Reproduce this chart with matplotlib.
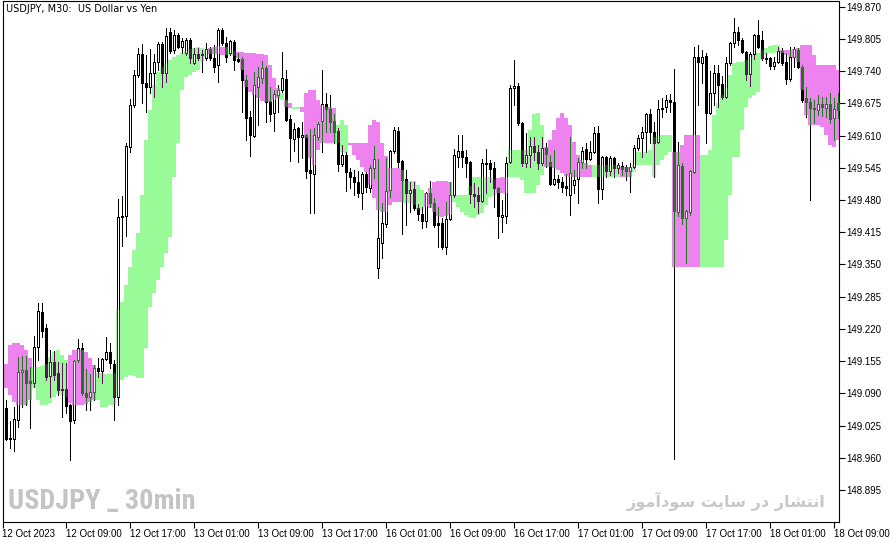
import matplotlib
matplotlib.use("Agg")
import matplotlib.pyplot as plt
from matplotlib.patches import Rectangle
from matplotlib import font_manager as fm
import numpy as np

# ---------------- data (USDJPY M30) ----------------
opens = [149.071, 149.061, 149.000, 148.998, 149.036, 149.133, 149.137, 149.115, 149.111, 149.183,
         149.254, 149.222, 149.125, 149.153, 149.131, 149.099, 149.099, 149.067, 149.036, 149.157,
         149.181, 149.091, 149.083, 149.093, 149.141, 149.135, 149.159, 149.173, 149.149, 149.083,
         149.446, 149.448, 149.587, 149.672, 149.732, 149.775, 149.716, 149.708, 149.736, 149.758,
         149.795, 149.736, 149.819, 149.783, 149.813, 149.789, 149.777, 149.803, 149.756, 149.775,
         149.775, 149.767, 149.785, 149.767, 149.752, 149.823, 149.797, 149.777, 149.799, 149.764,
         149.764, 149.722, 149.647, 149.609, 149.708, 149.726, 149.746, 149.680, 149.656, 149.692,
         149.702, 149.724, 149.643, 149.603, 149.625, 149.607, 149.611, 149.541, 149.532, 149.607,
         149.639, 149.674, 149.664, 149.639, 149.619, 149.553, 149.571, 149.537, 149.526, 149.516,
         149.494, 149.532, 149.504, 149.545, 149.343, 149.393, 149.432, 149.500, 149.579, 149.619,
         149.559, 149.522, 149.494, 149.502, 149.464, 149.452, 149.438, 149.494, 149.474, 149.434,
         149.434, 149.385, 149.442, 149.490, 149.567, 149.579, 149.567, 149.557, 149.492, 149.490,
         149.478, 149.555, 149.555, 149.545, 149.504, 149.446, 149.448, 149.557, 149.706, 149.710,
         149.635, 149.555, 149.571, 149.589, 149.577, 149.555, 149.585, 149.557, 149.512, 149.522,
         149.516, 149.508, 149.490, 149.510, 149.522, 149.557, 149.583, 149.563, 149.577, 149.615,
         149.502, 149.567, 149.539, 149.565, 149.545, 149.549, 149.547, 149.539, 149.547, 149.585,
         149.605, 149.617, 149.654, 149.617, 149.597, 149.666, 149.668, 149.682, 149.678, 149.456,
         149.549, 149.444, 149.456, 149.537, 149.769, 149.756, 149.771, 149.656, 149.696, 149.736,
         149.714, 149.688, 149.756, 149.797, 149.819, 149.803, 149.779, 149.734, 149.775, 149.813,
         149.803, 149.767, 149.767, 149.750, 149.758, 149.781, 149.758, 149.724, 149.769, 149.783,
         149.748, 149.686, 149.678, 149.666, 149.662, 149.674, 149.666, 149.674, 149.645, 149.676]

highs = [149.077, 149.077, 149.034, 149.062, 149.163, 149.165, 149.165, 149.143, 149.206, 149.272,
         149.272, 149.230, 149.177, 149.175, 149.153, 149.151, 149.151, 149.069, 149.157, 149.200,
         149.191, 149.139, 149.129, 149.147, 149.161, 149.161, 149.204, 149.191, 149.157, 149.482,
         149.488, 149.595, 149.684, 149.742, 149.787, 149.795, 149.773, 149.785, 149.775, 149.799,
         149.799, 149.827, 149.827, 149.823, 149.817, 149.807, 149.807, 149.807, 149.787, 149.787,
         149.783, 149.797, 149.789, 149.793, 149.827, 149.827, 149.809, 149.803, 149.803, 149.777,
         149.769, 149.732, 149.660, 149.738, 149.748, 149.760, 149.750, 149.708, 149.702, 149.712,
         149.779, 149.742, 149.651, 149.635, 149.627, 149.637, 149.613, 149.623, 149.625, 149.637,
         149.742, 149.696, 149.692, 149.654, 149.625, 149.591, 149.577, 149.545, 149.541, 149.539,
         149.537, 149.537, 149.551, 149.589, 149.563, 149.474, 149.565, 149.581, 149.627, 149.627,
         149.561, 149.541, 149.516, 149.516, 149.472, 149.466, 149.496, 149.518, 149.484, 149.466,
         149.444, 149.476, 149.516, 149.583, 149.611, 149.611, 149.581, 149.559, 149.514, 149.506,
         149.563, 149.583, 149.561, 149.557, 149.506, 149.480, 149.567, 149.712, 149.762, 149.716,
         149.637, 149.615, 149.607, 149.607, 149.591, 149.607, 149.595, 149.571, 149.581, 149.530,
         149.526, 149.532, 149.607, 149.541, 149.565, 149.587, 149.595, 149.599, 149.627, 149.629,
         149.569, 149.569, 149.569, 149.567, 149.555, 149.557, 149.551, 149.555, 149.591, 149.611,
         149.627, 149.656, 149.664, 149.637, 149.682, 149.686, 149.692, 149.694, 149.744, 149.597,
         149.555, 149.460, 149.541, 149.789, 149.793, 149.783, 149.777, 149.740, 149.752, 149.752,
         149.730, 149.769, 149.799, 149.847, 149.829, 149.807, 149.781, 149.779, 149.815, 149.843,
         149.821, 149.777, 149.769, 149.769, 149.789, 149.787, 149.777, 149.789, 149.789, 149.787,
         149.752, 149.708, 149.686, 149.682, 149.692, 149.688, 149.688, 149.696, 149.686, 149.696]

lows = [149.052, 148.996, 148.980, 148.974, 149.022, 149.062, 149.067, 149.020, 149.103, 149.157,
        149.204, 149.117, 149.083, 149.117, 149.087, 149.042, 149.050, 148.956, 149.030, 149.153,
        149.087, 149.056, 149.056, 149.077, 149.123, 149.111, 149.157, 149.141, 149.036, 149.067,
        149.387, 149.407, 149.577, 149.668, 149.728, 149.676, 149.658, 149.696, 149.688, 149.742,
        149.708, 149.718, 149.777, 149.777, 149.787, 149.777, 149.773, 149.756, 149.754, 149.762,
        149.738, 149.762, 149.762, 149.738, 149.718, 149.793, 149.758, 149.773, 149.742, 149.758,
        149.658, 149.601, 149.569, 149.607, 149.631, 149.716, 149.637, 149.639, 149.619, 149.658,
        149.698, 149.639, 149.559, 149.579, 149.557, 149.565, 149.524, 149.454, 149.454, 149.601,
        149.577, 149.617, 149.617, 149.595, 149.539, 149.549, 149.498, 149.504, 149.490, 149.486,
        149.462, 149.496, 149.496, 149.524, 149.323, 149.363, 149.426, 149.486, 149.575, 149.547,
        149.411, 149.430, 149.456, 149.460, 149.440, 149.424, 149.426, 149.466, 149.426, 149.385,
        149.381, 149.371, 149.440, 149.486, 149.547, 149.547, 149.526, 149.474, 149.466, 149.454,
        149.476, 149.494, 149.516, 149.466, 149.403, 149.415, 149.434, 149.555, 149.672, 149.631,
        149.549, 149.547, 149.547, 149.561, 149.543, 149.551, 149.547, 149.510, 149.510, 149.504,
        149.496, 149.490, 149.450, 149.494, 149.474, 149.545, 149.545, 149.561, 149.575, 149.474,
        149.482, 149.526, 149.530, 149.526, 149.535, 149.530, 149.520, 149.496, 149.545, 149.581,
        149.567, 149.577, 149.595, 149.526, 149.595, 149.647, 149.658, 149.658, 148.958, 149.448,
        149.432, 149.353, 149.450, 149.535, 149.672, 149.716, 149.595, 149.654, 149.672, 149.668,
        149.684, 149.686, 149.752, 149.789, 149.793, 149.777, 149.722, 149.710, 149.764, 149.787,
        149.762, 149.756, 149.744, 149.744, 149.756, 149.752, 149.714, 149.720, 149.748, 149.746,
        149.678, 149.647, 149.480, 149.635, 149.651, 149.649, 149.647, 149.635, 149.601, 149.645]

closes = [149.056, 148.998, 148.998, 149.038, 149.133, 149.137, 149.111, 149.111, 149.183, 149.256,
          149.216, 149.123, 149.153, 149.127, 149.097, 149.097, 149.065, 149.034, 149.155, 149.181,
          149.091, 149.083, 149.093, 149.141, 149.135, 149.159, 149.173, 149.151, 149.083, 149.446,
          149.448, 149.589, 149.672, 149.732, 149.775, 149.716, 149.708, 149.736, 149.758, 149.795,
          149.736, 149.811, 149.781, 149.813, 149.789, 149.801, 149.803, 149.767, 149.775, 149.767,
          149.773, 149.785, 149.767, 149.748, 149.823, 149.797, 149.769, 149.801, 149.762, 149.760,
          149.722, 149.645, 149.611, 149.712, 149.728, 149.746, 149.678, 149.654, 149.694, 149.702,
          149.726, 149.641, 149.605, 149.623, 149.607, 149.611, 149.539, 149.535, 149.611, 149.633,
          149.674, 149.664, 149.637, 149.617, 149.553, 149.571, 149.537, 149.526, 149.516, 149.494,
          149.532, 149.506, 149.545, 149.563, 149.403, 149.434, 149.498, 149.579, 149.621, 149.557,
          149.520, 149.494, 149.500, 149.464, 149.452, 149.438, 149.494, 149.474, 149.430, 149.430,
          149.385, 149.442, 149.490, 149.571, 149.579, 149.567, 149.555, 149.492, 149.488, 149.478,
          149.555, 149.553, 149.543, 149.504, 149.448, 149.450, 149.555, 149.706, 149.710, 149.635,
          149.555, 149.571, 149.589, 149.577, 149.555, 149.585, 149.573, 149.512, 149.522, 149.516,
          149.506, 149.504, 149.535, 149.520, 149.557, 149.579, 149.563, 149.577, 149.615, 149.502,
          149.567, 149.539, 149.565, 149.545, 149.551, 149.543, 149.539, 149.547, 149.585, 149.605,
          149.617, 149.654, 149.617, 149.595, 149.664, 149.664, 149.682, 149.678, 149.458, 149.551,
          149.444, 149.458, 149.539, 149.769, 149.758, 149.769, 149.656, 149.696, 149.736, 149.712,
          149.688, 149.756, 149.797, 149.819, 149.803, 149.779, 149.734, 149.775, 149.813, 149.789,
          149.767, 149.764, 149.750, 149.758, 149.781, 149.756, 149.724, 149.769, 149.785, 149.748,
          149.682, 149.678, 149.666, 149.664, 149.674, 149.668, 149.674, 149.643, 149.664, 149.662]

# cloud spans (green where span_a > span_b, violet otherwise)
span_a = [149.127, 149.101, 149.087, 149.072, 149.067, 149.067, 149.067, 149.077, 149.143, 149.143,
          149.145, 149.149, 149.163, 149.173, 149.177, 149.167, 149.157, 149.070, 149.067, 149.067,
          149.067, 149.069, 149.072, 149.077, 149.131, 149.131, 149.129, 149.129, 149.131, 149.258,
          149.274, 149.309, 149.345, 149.379, 149.413, 149.490, 149.601, 149.662, 149.712, 149.738,
          149.748, 149.756, 149.762, 149.769, 149.773, 149.777, 149.781, 149.785, 149.787, 149.789,
          149.787, 149.785, 149.775, 149.775, 149.775, 149.773, 149.773, 149.783, 149.781, 149.767,
          149.742, 149.708, 149.698, 149.692, 149.686, 149.680, 149.678, 149.678, 149.682, 149.686,
          149.696, 149.668, 149.666, 149.668, 149.668, 149.658, 149.605, 149.565, 149.551, 149.581,
          149.595, 149.595, 149.595, 149.595, 149.631, 149.641, 149.631, 149.591, 149.571, 149.561,
          149.547, 149.537, 149.510, 149.484, 149.460, 149.456, 149.456, 149.470, 149.476, 149.476,
          149.476, 149.518, 149.518, 149.518, 149.510, 149.500, 149.466, 149.464, 149.456, 149.448,
          149.446, 149.448, 149.450, 149.490, 149.490, 149.490, 149.490, 149.508, 149.526, 149.526,
          149.526, 149.526, 149.526, 149.522, 149.494, 149.494, 149.494, 149.581, 149.581, 149.581,
          149.581, 149.581, 149.621, 149.654, 149.656, 149.631, 149.547, 149.547, 149.545, 149.541,
          149.535, 149.528, 149.526, 149.526, 149.526, 149.526, 149.526, 149.526, 149.551, 149.551,
          149.551, 149.551, 149.551, 149.551, 149.551, 149.526, 149.526, 149.526, 149.551, 149.577,
          149.577, 149.577, 149.581, 149.607, 149.609, 149.611, 149.611, 149.611, 149.345, 149.345,
          149.345, 149.345, 149.345, 149.345, 149.345, 149.571, 149.571, 149.581, 149.651, 149.676,
          149.692, 149.706, 149.732, 149.756, 149.758, 149.758, 149.762, 149.769, 149.773, 149.777,
          149.783, 149.787, 149.791, 149.793, 149.793, 149.777, 149.773, 149.769, 149.767, 149.758,
          149.702, 149.651, 149.631, 149.631, 149.631, 149.627, 149.611, 149.591, 149.587, 149.601]

span_b = [149.147, 149.149, 149.188, 149.192, 149.192, 149.188, 149.177, 149.161, 149.101, 149.077,
          149.067, 149.067, 149.070, 149.083, 149.089, 149.087, 149.083, 149.167, 149.177, 149.177,
          149.177, 149.173, 149.161, 149.147, 149.077, 149.062, 149.062, 149.067, 149.067, 149.083,
          149.117, 149.123, 149.127, 149.125, 149.121, 149.121, 149.181, 149.264, 149.292, 149.319,
          149.345, 149.373, 149.405, 149.526, 149.595, 149.702, 149.728, 149.732, 149.738, 149.742,
          149.758, 149.769, 149.787, 149.789, 149.791, 149.789, 149.789, 149.773, 149.771, 149.779,
          149.779, 149.777, 149.777, 149.777, 149.775, 149.775, 149.773, 149.752, 149.726, 149.706,
          149.682, 149.682, 149.676, 149.664, 149.664, 149.668, 149.696, 149.702, 149.702, 149.682,
          149.672, 149.668, 149.668, 149.666, 149.595, 149.577, 149.575, 149.595, 149.595, 149.595,
          149.595, 149.595, 149.631, 149.641, 149.637, 149.595, 149.569, 149.545, 149.545, 149.545,
          149.541, 149.474, 149.474, 149.470, 149.460, 149.460, 149.494, 149.504, 149.516, 149.518,
          149.518, 149.518, 149.516, 149.476, 149.466, 149.456, 149.450, 149.446, 149.444, 149.450,
          149.454, 149.470, 149.486, 149.490, 149.524, 149.526, 149.526, 149.526, 149.526, 149.526,
          149.520, 149.494, 149.494, 149.494, 149.510, 149.530, 149.587, 149.601, 149.621, 149.645,
          149.656, 149.645, 149.631, 149.597, 149.571, 149.561, 149.555, 149.551, 149.526, 149.526,
          149.526, 149.526, 149.526, 149.526, 149.526, 149.547, 149.547, 149.547, 149.537, 149.551,
          149.551, 149.551, 149.551, 149.526, 149.551, 149.561, 149.571, 149.577, 149.577, 149.577,
          149.591, 149.611, 149.611, 149.611, 149.611, 149.345, 149.345, 149.345, 149.345, 149.345,
          149.345, 149.399, 149.490, 149.567, 149.567, 149.621, 149.668, 149.686, 149.692, 149.698,
          149.762, 149.773, 149.777, 149.777, 149.779, 149.783, 149.783, 149.783, 149.785, 149.787,
          149.793, 149.793, 149.793, 149.773, 149.752, 149.752, 149.752, 149.752, 149.752, 149.742]

time_labels = ["12 Oct 2023", "12 Oct 09:00", "12 Oct 17:00", "13 Oct 01:00", "13 Oct 09:00",
               "13 Oct 17:00", "16 Oct 01:00", "16 Oct 09:00", "16 Oct 17:00", "17 Oct 01:00",
               "17 Oct 09:00", "17 Oct 17:00", "18 Oct 01:00", "18 Oct 09:00"]
price_ticks = [148.895, 148.960, 149.025, 149.090, 149.155, 149.220, 149.285, 149.350,
               149.415, 149.480, 149.545, 149.610, 149.675, 149.740, 149.805, 149.870]

title_text = "USDJPY, M30:  US Dollar vs Yen"
wm_left = "USDJPY _ 30min"
wm_right = "انتشار در سایت سودآموز"

# ---------------- fonts ----------------
names = {f.name for f in fm.fontManager.ttflist}
TICK_FONT = ["Liberation Sans", "DejaVu Sans"] if "Liberation Sans" in names else ["DejaVu Sans"]
narrow_pref = ["Liberation Sans Narrow", "Roboto Condensed", "Open Sans Condensed",
               "Roboto", "Liberation Sans", "DejaVu Sans"]
WM_FONT = [f for f in narrow_pref if f in names][:1] + ["DejaVu Sans"]

# ---------------- figure ----------------
W, H = 892, 543
fig = plt.figure(figsize=(W / 100, H / 100), dpi=100)
fig.patch.set_facecolor("white")
ax = fig.add_axes([2.5 / W, (H - 522) / H, 836 / W, 521.5 / H])
ax.set_facecolor("white")

o = np.array(opens); h = np.array(highs); l = np.array(lows); c = np.array(closes)
sa = np.array(span_a); sb = np.array(span_b)
n = len(o)
x = np.arange(n)

GREEN_CLOUD = "#98fb98"
VIOLET_CLOUD = "#ee82ee"
IN_GREEN = "#5e0f5e"   # candle colour inside green cloud
IN_VIOLET = "#1c7a1c"  # candle colour inside violet cloud

cl_lo = np.minimum(sa, sb)
cl_hi = np.maximum(sa, sb)
cl_col = [GREEN_CLOUD if a >= b else VIOLET_CLOUD for a, b in zip(sa, sb)]
ax.bar(x, cl_hi - cl_lo, bottom=cl_lo, width=1.0, color=cl_col, linewidth=0,
       antialiased=False, zorder=1)

lw = 0.5


def draw_candle(i, col, zorder, clip=None):
    bull = c[i] >= o[i]
    arts = []
    ln, = ax.plot([i, i], [l[i], h[i]], color=col, lw=lw, zorder=zorder,
                  solid_capstyle="butt", antialiased=False)
    arts.append(ln)
    lo_b = min(o[i], c[i]); hi_b = max(o[i], c[i])
    r = Rectangle((i - 0.25, lo_b), 0.5, max(hi_b - lo_b, 1e-6),
                  facecolor=("white" if bull else col), edgecolor=col,
                  lw=lw, zorder=zorder + 0.1, antialiased=False)
    ax.add_patch(r)
    arts.append(r)
    if clip is not None:
        for a in arts:
            a.set_clip_path(clip)
    return arts


for i in range(n):
    draw_candle(i, "black", 3)
    if cl_hi[i] > cl_lo[i]:
        col = IN_GREEN if sa[i] >= sb[i] else IN_VIOLET
        clip = Rectangle((i - 0.5, cl_lo[i]), 1.0, cl_hi[i] - cl_lo[i], transform=ax.transData)
        draw_candle(i, col, 4, clip=clip)

ax.set_xlim(0.05, 209.05)
ax.set_ylim(148.8304, 149.8825)

# axes styling
for s in ax.spines.values():
    s.set_color("black")
    s.set_linewidth(0.8)

ax.yaxis.tick_right()
ax.set_yticks(price_ticks)
ax.set_yticklabels([f"{v:.3f}" for v in price_ticks], family=TICK_FONT)
ax.tick_params(axis="y", direction="out", length=4, width=0.8, pad=1.5,
               labelsize=7, colors="black")

ax.set_xticks(np.arange(0, n, 16)[:len(time_labels)])
ax.set_xticklabels(time_labels, ha="left", family=TICK_FONT)
ax.tick_params(axis="x", direction="out", length=4, width=0.8, pad=1,
               labelsize=7, colors="black")

# texts
fig.text(6 / W, 1 - 9 / H, title_text, fontsize=7, va="center", ha="left", color="black")

t_left = fig.text(8 / W, 1 - 502 / H, wm_left, fontsize=21, fontweight="bold", color="#c4c4c4",
                  va="center", ha="left", family=WM_FONT)


# visual shaping of the Persian caption (presentation forms, visual order)
def shape_persian(txt):
    forms = {  # letter: (isolated, final, initial, medial)
        "ا": ("\uFE8D", "\uFE8E", None, None),
        "آ": ("\uFE81", "\uFE82", None, None),
        "د": ("\uFEA9", "\uFEAA", None, None),
        "ر": ("\uFEAD", "\uFEAE", None, None),
        "ز": ("\uFEAF", "\uFEB0", None, None),
        "و": ("\uFEED", "\uFEEE", None, None),
        "ن": ("\uFEE5", "\uFEE6", "\uFEE7", "\uFEE8"),
        "ت": ("\uFE95", "\uFE96", "\uFE97", "\uFE98"),
        "ش": ("\uFEB5", "\uFEB6", "\uFEB7", "\uFEB8"),
        "س": ("\uFEB1", "\uFEB2", "\uFEB3", "\uFEB4"),
        "ی": ("\uFEEF", "\uFEF0", "\uFEF3", "\uFEF4"),
        "م": ("\uFEE1", "\uFEE2", "\uFEE3", "\uFEE4"),
    }
    out = []
    chars = list(txt)
    for k, ch in enumerate(chars):
        if ch not in forms:
            out.append(ch)
            continue
        prev = chars[k - 1] if k > 0 else " "
        nxt = chars[k + 1] if k + 1 < len(chars) else " "
        prev_joins = prev in forms and forms[prev][2] is not None
        next_joins = nxt in forms and forms[ch][2] is not None
        iso, fin, ini, med = forms[ch]
        if prev_joins and next_joins:
            g = med
        elif prev_joins:
            g = fin
        elif next_joins:
            g = ini
        else:
            g = iso
        out.append(g)
    return "".join(reversed(out))


t_right = fig.text(825 / W, 1 - 501 / H, shape_persian(wm_right), fontsize=14, fontweight="bold",
                   color="#c8c8c8", va="center", ha="right", family=["DejaVu Sans"])

# fit watermark widths to the reference (px)
fig.canvas.draw()
r = fig.canvas.get_renderer()
for t, target in ((t_left, 187.0), (t_right, 200.0)):
    wpx = t.get_window_extent(r).width
    if wpx > 0:
        t.set_fontsize(t.get_fontsize() * target / wpx)

fig.savefig("out.png", dpi=100, facecolor="white")
